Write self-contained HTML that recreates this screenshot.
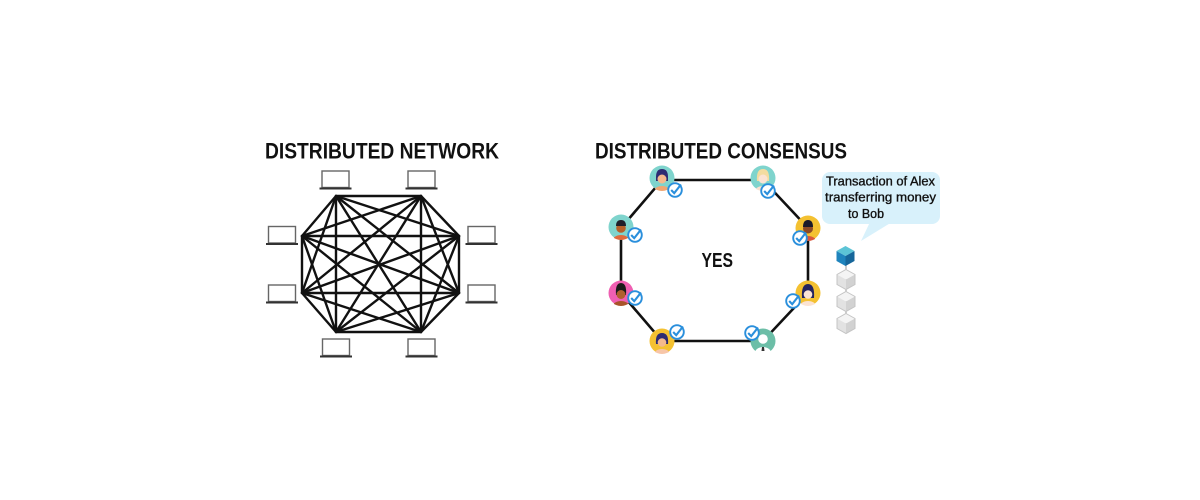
<!DOCTYPE html>
<html><head><meta charset="utf-8"><style>
html,body{margin:0;padding:0;background:#fff;}
svg{display:block;}
</style></head><body>
<svg width="1200" height="500" viewBox="0 0 1200 500" xmlns="http://www.w3.org/2000/svg">
<rect width="1200" height="500" fill="#fff"/>
<defs>
  <g id="laptop">
    <rect x="-13.5" y="-17" width="27" height="16.5" fill="#fff" stroke="#666" stroke-width="1.4"/>
    <line x1="-16" y1="0.5" x2="16" y2="0.5" stroke="#333" stroke-width="2"/>
  </g>
  <g id="check">
    <circle r="6.8" fill="#fff" stroke="#2a8fdc" stroke-width="1.9"/>
    <path d="M-3.8 0 L-0.8 3.2 L6 -5.5" fill="none" stroke="#2a8fdc" stroke-width="2.1"/>
  </g>
  <clipPath id="av"><circle r="13"/></clipPath>
  <g id="cubeg">
    <polygon points="0,-10 9,-5 0,0 -9,-5" fill="#f4f4f4"/>
    <polygon points="-9,-5 0,0 0,10 -9,5" fill="#e2e2e2"/>
    <polygon points="0,0 9,-5 9,5 0,10" fill="#d2d2d2"/>
    <polygon points="0,-10 9,-5 9,5 0,10 -9,5 -9,-5" fill="none" stroke="#c4c4c4" stroke-width="1"/>
  </g>
</defs>

<!-- Titles -->
<text x="265" y="158.5" font-family="Liberation Sans, sans-serif" font-weight="bold" font-size="22" fill="#111" textLength="234" lengthAdjust="spacingAndGlyphs">DISTRIBUTED NETWORK</text>
<text x="595" y="158.5" font-family="Liberation Sans, sans-serif" font-weight="bold" font-size="22" fill="#111" textLength="252" lengthAdjust="spacingAndGlyphs">DISTRIBUTED CONSENSUS</text>

<!-- Network mesh -->
<g stroke="#111" stroke-width="2.4" stroke-linecap="round">
<line x1="336" y1="196" x2="421" y2="196"/><line x1="336" y1="196" x2="459" y2="236"/><line x1="336" y1="196" x2="459" y2="293"/><line x1="336" y1="196" x2="421" y2="332"/><line x1="336" y1="196" x2="336" y2="332"/><line x1="336" y1="196" x2="302" y2="293"/><line x1="336" y1="196" x2="302" y2="236"/>
<line x1="421" y1="196" x2="459" y2="236"/><line x1="421" y1="196" x2="459" y2="293"/><line x1="421" y1="196" x2="421" y2="332"/><line x1="421" y1="196" x2="336" y2="332"/><line x1="421" y1="196" x2="302" y2="293"/><line x1="421" y1="196" x2="302" y2="236"/>
<line x1="459" y1="236" x2="459" y2="293"/><line x1="459" y1="236" x2="421" y2="332"/><line x1="459" y1="236" x2="336" y2="332"/><line x1="459" y1="236" x2="302" y2="293"/><line x1="459" y1="236" x2="302" y2="236"/>
<line x1="459" y1="293" x2="421" y2="332"/><line x1="459" y1="293" x2="336" y2="332"/><line x1="459" y1="293" x2="302" y2="293"/><line x1="459" y1="293" x2="302" y2="236"/>
<line x1="421" y1="332" x2="336" y2="332"/><line x1="421" y1="332" x2="302" y2="293"/><line x1="421" y1="332" x2="302" y2="236"/>
<line x1="336" y1="332" x2="302" y2="293"/><line x1="336" y1="332" x2="302" y2="236"/>
<line x1="302" y1="293" x2="302" y2="236"/>
</g>

<!-- Laptops -->
<use href="#laptop" x="335.5" y="188"/>
<use href="#laptop" x="421.5" y="188"/>
<use href="#laptop" x="282" y="243.5"/>
<use href="#laptop" x="282" y="302"/>
<use href="#laptop" x="481.5" y="243.5"/>
<use href="#laptop" x="481.5" y="302"/>
<use href="#laptop" x="336" y="356"/>
<use href="#laptop" x="421.5" y="356"/>

<!-- Consensus octagon -->
<polygon points="662,180 763,180 808,228 808,293 763,341 662,341 621,293 621,228" fill="none" stroke="#111" stroke-width="2.6"/>

<text x="701.5" y="267" font-family="Liberation Sans, sans-serif" font-weight="bold" font-size="20" fill="#111" textLength="31.5" lengthAdjust="spacingAndGlyphs">YES</text>

<!-- Avatars -->
<g transform="translate(662,178)">
  <circle r="12.5" fill="#7fd4cd"/>
  <g clip-path="url(#av)">
    <ellipse cx="0" cy="13" rx="8" ry="5" fill="#f0a673"/>
    <path d="M-6 -1 Q-6 -9 0 -9 Q6 -9 6 -1 L6 3 L-6 3 Z" fill="#2d2b72"/>
    <circle cx="0" cy="1" r="4.5" fill="#f4b98d"/>
  </g>
</g>
<use href="#check" x="675" y="190"/>
<g transform="translate(763,178)">
  <circle r="12.5" fill="#7fd4cd"/>
  <g clip-path="url(#av)">
    <ellipse cx="0" cy="13" rx="8" ry="5" fill="#fbe0cf"/>
    <path d="M-6 3 Q-7 -9 0 -9 Q7 -9 6 3 Z" fill="#f3dca0"/>
    <circle cx="0" cy="1" r="4.5" fill="#fbe3d3"/>
  </g>
</g>
<use href="#check" x="768" y="191"/>
<g transform="translate(808,228)">
  <circle r="12.5" fill="#f4c131"/>
  <g clip-path="url(#av)">
    <ellipse cx="0" cy="13" rx="8" ry="5" fill="#d9573b"/>
    <circle cx="0" cy="0.5" r="5" fill="#8c4a26"/>
    <path d="M-5 -1 Q-5 -8 0 -8 Q5 -8 5 -1 Z" fill="#1a1a2a"/>
  </g>
</g>
<use href="#check" x="800" y="238"/>
<g transform="translate(808,293)">
  <circle r="12.5" fill="#f4c131"/>
  <g clip-path="url(#av)">
    <ellipse cx="0" cy="13" rx="8" ry="5" fill="#fbe3d3"/>
    <path d="M-6 5 Q-7 -9 0 -9 Q7 -9 6 5 Z" fill="#25245e"/>
    <circle cx="0" cy="1.5" r="4.3" fill="#fbe3d3"/>
  </g>
</g>
<use href="#check" x="793" y="301"/>
<g transform="translate(763,341)">
  <circle r="12.5" fill="#6cbea7"/>
  <g clip-path="url(#av)">
    <ellipse cx="0" cy="12" rx="8" ry="6" fill="#fff"/>
    <circle cx="0" cy="-2" r="4.8" fill="#fff"/>
    <path d="M-1 6 L1 6 L1.5 10 L-1.5 10 Z" fill="#333"/>
  </g>
</g>
<use href="#check" x="752" y="333"/>
<g transform="translate(662,341)">
  <circle r="12.5" fill="#f4c131"/>
  <g clip-path="url(#av)">
    <ellipse cx="0" cy="13" rx="8" ry="5" fill="#f7c6a8"/>
    <path d="M-6 3 Q-7 -8 0 -8 Q7 -8 6 3 Z" fill="#2d2b72"/>
    <circle cx="0" cy="1.5" r="4.3" fill="#f4b98d"/>
  </g>
</g>
<use href="#check" x="677" y="332"/>
<g transform="translate(621,293)">
  <circle r="12.5" fill="#ef5fb2"/>
  <g clip-path="url(#av)">
    <ellipse cx="0" cy="13" rx="8" ry="5" fill="#a8542a"/>
    <path d="M-5 2 Q-6 -10 0 -10 Q6 -10 5 2 Z" fill="#1a1a1a"/>
    <circle cx="0" cy="1.5" r="4.5" fill="#b0602e"/>
  </g>
</g>
<use href="#check" x="635" y="298"/>
<g transform="translate(621,227)">
  <circle r="12.5" fill="#7fd4cd"/>
  <g clip-path="url(#av)">
    <ellipse cx="0" cy="13" rx="8" ry="5" fill="#e06a3c"/>
    <circle cx="0" cy="1" r="4.8" fill="#b5602a"/>
    <path d="M-5 -1 Q-5 -7 0 -7 Q5 -7 5 -1 Z" fill="#1f1f2a"/>
  </g>
</g>
<use href="#check" x="635" y="235"/>

<!-- Speech bubble -->
<rect x="822" y="172" width="118" height="52" rx="8" fill="#d8f1fb"/>
<polygon points="870,222 892,222 861,241" fill="#d8f1fb"/>
<g font-family="Liberation Sans, sans-serif" font-size="13" fill="#111" stroke="#111" stroke-width="0.35">
<text x="826" y="185.5" textLength="109" lengthAdjust="spacingAndGlyphs">Transaction of Alex</text>
<text x="825" y="201.5" textLength="111" lengthAdjust="spacingAndGlyphs">transferring money</text>
<text x="848" y="218" textLength="36" lengthAdjust="spacingAndGlyphs">to Bob</text>
</g>

<!-- Blockchain -->
<line x1="846" y1="260" x2="846" y2="330" stroke="#aaa" stroke-width="1.2"/>
<use href="#cubeg" x="846" y="279.5"/>
<use href="#cubeg" x="846" y="301.5"/>
<use href="#cubeg" x="846" y="323.5"/>
<g transform="translate(845.5,256)">
  <polygon points="0,-10 9,-5 0,0 -9,-5" fill="#5cc4d6"/>
  <polygon points="-9,-5 0,0 0,10 -9,5" fill="#1f84bd"/>
  <polygon points="0,0 9,-5 9,5 0,10" fill="#16669a"/>
</g>
</svg>
</body></html>
